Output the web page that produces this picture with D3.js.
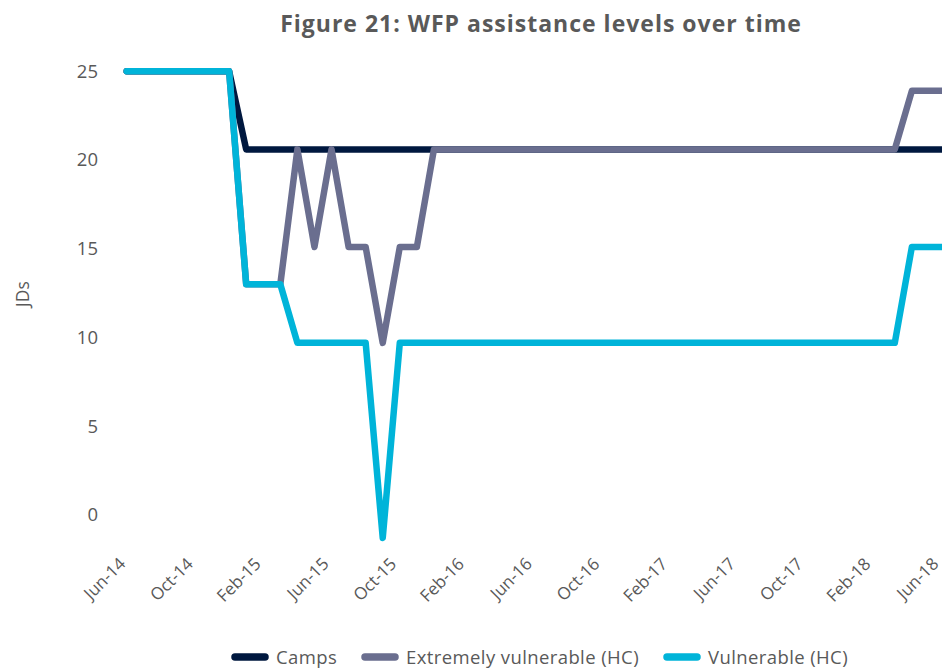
<!DOCTYPE html>
<html>
<head>
<meta charset="utf-8">
<script src="https://cdn.jsdelivr.net/npm/d3@7"></script>
<style>
  body { margin: 0; background: #fff; }
  svg { display: block; font-family: "Open Sans", sans-serif; }
</style>
</head>
<body>
<script>
// month categories Jun-14 .. Jun-18
var fmt = d3.timeFormat("%b-%y");
var months = d3.timeMonth.range(new Date(2014, 5, 1), new Date(2018, 6, 1)).map(fmt);

var tickLabels = ["Jun-14", "Oct-14", "Feb-15", "Jun-15", "Oct-15", "Feb-16", "Jun-16",
                  "Oct-16", "Feb-17", "Jun-17", "Oct-17", "Feb-18", "Jun-18"];
var yTicks = [0, 5, 10, 15, 20, 25];

var camps = [25, 25, 25, 25, 25, 25, 25,
  20.6, 20.6, 20.6, 20.6, 20.6, 20.6, 20.6, 20.6, 20.6, 20.6, 20.6, 20.6,
  20.6, 20.6, 20.6, 20.6, 20.6, 20.6, 20.6, 20.6, 20.6, 20.6, 20.6, 20.6,
  20.6, 20.6, 20.6, 20.6, 20.6, 20.6, 20.6, 20.6, 20.6, 20.6, 20.6, 20.6,
  20.6, 20.6, 20.6, 20.6, 20.6, 20.6];

var extremelyVulnerable = [25, 25, 25, 25, 25, 25, 25,
  13, 13, 13, 20.6, 15.1, 20.6, 15.1, 15.1, 9.7, 15.1, 15.1, 20.6,
  20.6, 20.6, 20.6, 20.6, 20.6, 20.6, 20.6, 20.6, 20.6, 20.6, 20.6, 20.6,
  20.6, 20.6, 20.6, 20.6, 20.6, 20.6, 20.6, 20.6, 20.6, 20.6, 20.6, 20.6,
  20.6, 20.6, 20.6, 23.9, 23.9, 23.9];

var vulnerable = [25, 25, 25, 25, 25, 25, 25,
  13, 13, 13, 9.7, 9.7, 9.7, 9.7, 9.7, -1.3, 9.7, 9.7, 9.7,
  9.7, 9.7, 9.7, 9.7, 9.7, 9.7, 9.7, 9.7, 9.7, 9.7, 9.7, 9.7,
  9.7, 9.7, 9.7, 9.7, 9.7, 9.7, 9.7, 9.7, 9.7, 9.7, 9.7, 9.7,
  9.7, 9.7, 9.7, 15.1, 15.1, 15.1];

var seriesNames = ["Camps", "Extremely vulnerable (HC)", "Vulnerable (HC)"];
var seriesColors = ["#00183f", "#6a6e8f", "#00b4d9"];
var seriesData = [camps, extremelyVulnerable, vulnerable];

var width = 942, height = 668;

var svg = d3.select("body").append("svg")
    .attr("width", width)
    .attr("height", height);

var x = d3.scalePoint().domain(months).range([126.7, 946]);
// labels sit a touch tighter than the data points in the original
var xLabels = x.copy().range([127, 940]);
var y = d3.scaleLinear().domain([0, 25]).range([515, 71.3]);

// title
svg.append("text")
    .attr("x", 541)
    .attr("y", 32)
    .attr("text-anchor", "middle")
    .style("font-size", "23px")
    .style("font-weight", "bold")
    .style("letter-spacing", "1px")
    .style("fill", "#595959")
    .text("Figure 21: WFP assistance levels over time");

// y axis
var yAxis = svg.append("g")
    .attr("transform", "translate(98,0)")
    .call(d3.axisLeft(y).tickValues(yTicks).tickSize(0).tickPadding(0));
yAxis.select(".domain").remove();
yAxis.selectAll("text")
    .style("font-family", "Open Sans")
    .style("font-size", "18.5px")
    .style("fill", "#595959");

svg.append("text")
    .attr("transform", "translate(29,294) rotate(-90)")
    .attr("text-anchor", "middle")
    .style("font-size", "17.5px")
    .style("fill", "#595959")
    .text("JDs");

// x axis
var xAxis = svg.append("g")
    .attr("transform", "translate(0,560)")
    .call(d3.axisBottom(xLabels).tickValues(tickLabels).tickSize(0).tickPadding(0));
xAxis.select(".domain").remove();
xAxis.selectAll("text")
    .attr("text-anchor", "end")
    .attr("dy", null)
    .attr("y", 0)
    .attr("transform", "translate(-1,5) rotate(-45)")
    .style("font-family", "Open Sans")
    .style("font-size", "17px")
    .style("fill", "#595959");

// lines
var line = d3.line()
    .x(function(d, i) { return x(months[i]); })
    .y(function(d) { return y(d); });

svg.selectAll(".series")
    .data(seriesData)
    .enter().append("path")
    .attr("class", "series")
    .attr("d", line)
    .attr("fill", "none")
    .attr("stroke", function(d, i) { return seriesColors[i]; })
    .attr("stroke-width", 6.5)
    .attr("stroke-linecap", "round")
    .attr("stroke-linejoin", "round");

// legend
var legendX = [232, 362, 664];
var legend = svg.selectAll(".legend")
    .data(seriesNames)
    .enter().append("g")
    .attr("class", "legend")
    .attr("transform", function(d, i) { return "translate(" + legendX[i] + ",657)"; });

legend.append("line")
    .attr("x1", 3).attr("x2", 33)
    .attr("y1", 0).attr("y2", 0)
    .attr("stroke", function(d, i) { return seriesColors[i]; })
    .attr("stroke-width", 7.5)
    .attr("stroke-linecap", "round");

legend.append("text")
    .attr("x", 44)
    .attr("y", 6.5)
    .style("font-size", "18.5px")
    .style("letter-spacing", "0.4px")
    .style("fill", "#595959")
    .text(function(d) { return d; });
</script>
</body>
</html>
